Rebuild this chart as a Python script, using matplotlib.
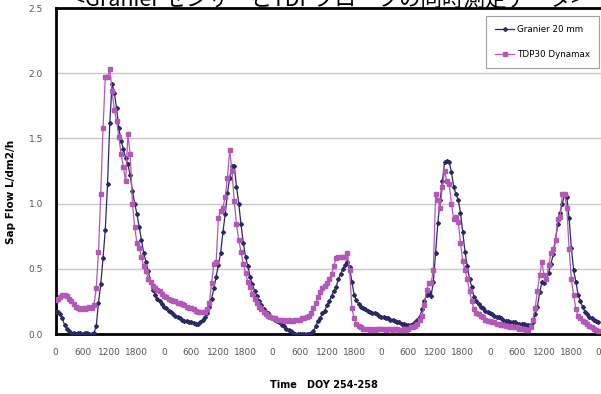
import numpy as np
import matplotlib.pyplot as plt

# half-hourly readings, DOY 254-258 (hours since 0:00 of DOY 254)
hours = np.arange(0, 120.5, 0.5)

granier_d1 = [0.17, 0.17, 0.15, 0.12, 0.07, 0.04, 0.02, 0.01, 0.01, 0.00, 0.01, 0.01,
              0.00, 0.01, 0.01, 0.00, 0.00, 0.01, 0.06, 0.24, 0.38, 0.58, 0.80, 1.15,
              1.62, 1.92, 1.85, 1.73, 1.58, 1.48, 1.42, 1.35, 1.30, 1.22, 1.10, 1.00,
              0.92, 0.82, 0.72, 0.62, 0.55, 0.48, 0.40, 0.34, 0.30, 0.27, 0.25, 0.23]
granier_d2 = [0.21, 0.20, 0.18, 0.17, 0.15, 0.14, 0.13, 0.12, 0.11, 0.10, 0.10, 0.09,
              0.09, 0.085, 0.08, 0.08, 0.09, 0.11, 0.13, 0.16, 0.21, 0.27, 0.35, 0.44,
              0.53, 0.62, 0.78, 0.92, 1.08, 1.20, 1.29, 1.29, 1.13, 1.00, 0.84, 0.70,
              0.59, 0.52, 0.44, 0.38, 0.33, 0.29, 0.25, 0.22, 0.19, 0.17, 0.16, 0.14]
granier_d3 = [0.12, 0.11, 0.10, 0.09, 0.07, 0.06, 0.04, 0.03, 0.02, 0.01, 0.00, 0.00,
              0.00, 0.00, 0.00, 0.00, 0.00, 0.01, 0.02, 0.06, 0.10, 0.12, 0.16, 0.18,
              0.22, 0.25, 0.29, 0.33, 0.36, 0.42, 0.46, 0.50, 0.53, 0.55, 0.51, 0.40,
              0.30, 0.26, 0.23, 0.21, 0.20, 0.19, 0.18, 0.17, 0.16, 0.16, 0.15, 0.14]
granier_d4 = [0.13, 0.13, 0.12, 0.12, 0.11, 0.11, 0.10, 0.09, 0.09, 0.08, 0.08, 0.07,
              0.07, 0.07, 0.08, 0.09, 0.11, 0.13, 0.19, 0.25, 0.30, 0.32, 0.29, 0.40,
              0.62, 0.85, 1.03, 1.17, 1.32, 1.33, 1.32, 1.24, 1.13, 1.07, 1.03, 0.93,
              0.78, 0.63, 0.52, 0.42, 0.36, 0.28, 0.25, 0.23, 0.21, 0.20, 0.18, 0.17]
granier_d5 = [0.16, 0.15, 0.14, 0.13, 0.13, 0.12, 0.11, 0.10, 0.10, 0.09, 0.09, 0.09,
              0.08, 0.08, 0.08, 0.08, 0.07, 0.07, 0.07, 0.09, 0.15, 0.21, 0.32, 0.40,
              0.39, 0.42, 0.47, 0.54, 0.61, 0.72, 0.84, 0.93, 1.00, 1.07, 1.05, 0.89,
              0.66, 0.49, 0.40, 0.30, 0.25, 0.21, 0.17, 0.15, 0.13, 0.12, 0.11, 0.10,
              0.09]

tdp_d1 = [0.26, 0.27, 0.28, 0.30, 0.30, 0.29, 0.27, 0.25, 0.23, 0.21, 0.20, 0.19,
          0.20, 0.19, 0.20, 0.21, 0.20, 0.22, 0.35, 0.63, 1.07, 1.58, 1.97, 1.97,
          2.03, 1.86, 1.72, 1.63, 1.51, 1.38, 1.28, 1.17, 1.53, 1.38, 1.00, 0.82,
          0.70, 0.66, 0.59, 0.52, 0.48, 0.42, 0.40, 0.37, 0.35, 0.34, 0.33, 0.31]
tdp_d2 = [0.29, 0.28, 0.27, 0.26, 0.25, 0.25, 0.24, 0.24, 0.23, 0.22, 0.21, 0.20,
          0.20, 0.19, 0.18, 0.17, 0.17, 0.17, 0.17, 0.19, 0.24, 0.39, 0.54, 0.55,
          0.89, 0.94, 0.97, 1.05, 1.20, 1.41, 1.25, 1.02, 0.84, 0.72, 0.63, 0.54,
          0.47, 0.40, 0.36, 0.31, 0.27, 0.24, 0.21, 0.19, 0.17, 0.15, 0.14, 0.13]
tdp_d3 = [0.12, 0.12, 0.11, 0.11, 0.11, 0.11, 0.10, 0.11, 0.10, 0.10, 0.11, 0.11,
          0.11, 0.12, 0.12, 0.13, 0.14, 0.16, 0.20, 0.24, 0.28, 0.32, 0.35, 0.37,
          0.39, 0.42, 0.46, 0.52, 0.58, 0.59, 0.59, 0.59, 0.59, 0.62, 0.49, 0.20,
          0.12, 0.08, 0.06, 0.05, 0.04, 0.04, 0.04, 0.03, 0.04, 0.03, 0.04, 0.04]
tdp_d4 = [0.04, 0.04, 0.03, 0.04, 0.04, 0.03, 0.04, 0.04, 0.03, 0.03, 0.04, 0.03,
          0.04, 0.05, 0.05, 0.06, 0.08, 0.11, 0.14, 0.22, 0.34, 0.39, 0.39, 0.49,
          1.07, 1.03, 0.97, 1.13, 1.25, 1.17, 1.15, 1.00, 0.88, 0.90, 0.86, 0.70,
          0.56, 0.49, 0.42, 0.33, 0.25, 0.19, 0.16, 0.15, 0.14, 0.13, 0.11, 0.10]
tdp_d5 = [0.10, 0.09, 0.09, 0.08, 0.08, 0.07, 0.07, 0.06, 0.06, 0.05, 0.05, 0.05,
          0.05, 0.04, 0.04, 0.04, 0.03, 0.03, 0.05, 0.11, 0.20, 0.33, 0.45, 0.55,
          0.45, 0.42, 0.53, 0.62, 0.65, 0.72, 0.88, 0.90, 1.07, 1.07, 0.97, 0.65,
          0.42, 0.30, 0.19, 0.14, 0.12, 0.10, 0.09, 0.08, 0.06, 0.05, 0.04, 0.03,
          0.02]

granier = granier_d1 + granier_d2 + granier_d3 + granier_d4 + granier_d5
tdp = tdp_d1 + tdp_d2 + tdp_d3 + tdp_d4 + tdp_d5

tick_pos = np.arange(0, 121, 6)
tick_labels = ["0", "600", "1200", "1800"] * 5 + ["0"]
y_ticks = [0.0, 0.5, 1.0, 1.5, 2.0, 2.5]

navy = "#2a2966"
purple = "#b358b8"

fig = plt.figure(figsize=(6.01, 3.94), dpi=100)
ax = fig.add_axes([55.5 / 601, 1 - 334 / 394, 1 - 55.5 / 601, (334 - 8) / 394])

ax.plot(hours, granier, color=navy, lw=0.9, marker="D", ms=2.0,
        label="Granier 20 mm", zorder=3)
ax.plot(hours, tdp, color=purple, lw=0.9, marker="s", ms=3.3,
        label="TDP30 Dynamax", zorder=4)

ax.set_xlim(0, 120 * (601 - 55.5) / (598.5 - 55.5))
ax.set_ylim(0, 2.5)
ax.set_xticks(tick_pos)
ax.set_xticklabels(tick_labels)
ax.set_yticks(y_ticks)
ax.set_yticklabels([f"{v:.1f}" for v in y_ticks])
ax.tick_params(length=0, labelsize=6.5, labelcolor="#555555")
ax.tick_params(axis="x", pad=10)
ax.tick_params(axis="y", pad=9)

ax.grid(axis="y", color="#c8c8c8", lw=1.0)
ax.set_axisbelow(True)
for side in ["left", "bottom", "top"]:
    ax.spines[side].set_color("black")
    ax.spines[side].set_linewidth(2)
ax.spines["right"].set_visible(False)

ax.set_ylabel("Sap Flow L/dm2/h", fontsize=7.5, fontweight="bold", labelpad=14)
ax.yaxis.set_label_coords(-0.072, 0.435)
ax.set_xlabel("Time   DOY 254-258", fontsize=7, fontweight="bold")
ax.xaxis.set_label_coords(0.493, -0.14)

leg = ax.legend(loc="upper right", bbox_to_anchor=(0.996, 0.976), fontsize=6.3,
                frameon=True, fancybox=False, edgecolor="#888888",
                handlelength=2.2, labelspacing=1.9, borderpad=1.0,
                handletextpad=0.3, borderaxespad=0)
leg.get_frame().set_linewidth(0.8)

# the title is cut off at the top edge, as in the original image
fig.text(0.545, 0.985, "<Granier センサーとTDPプローブの同時測定データ>",
         fontsize=15.5, ha="center", va="baseline",
         family=["Noto Sans CJK JP", "DejaVu Sans"])

fig.savefig("out.png", dpi=100)
